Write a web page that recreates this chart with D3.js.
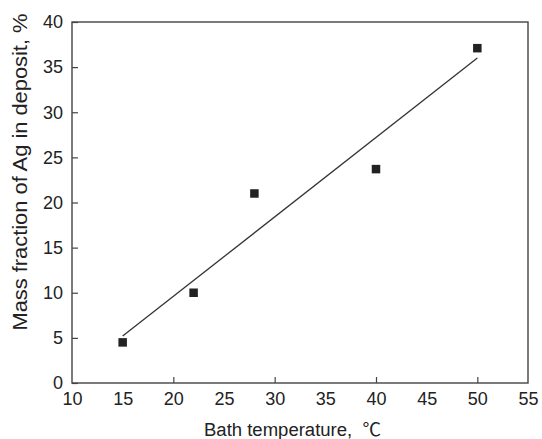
<!DOCTYPE html>
<html>
<head>
<meta charset="utf-8">
<script src="https://cdn.jsdelivr.net/npm/d3@7"></script>
<style>
  body { margin: 0; background: #fff; }
  text { font-family: "Liberation Sans", Arial, "Noto Sans CJK SC", sans-serif; fill: #222; }
</style>
</head>
<body>
<div id="chart"></div>
<script>
// measured points
const temperature = [15, 22, 28, 40, 50];
const agFraction = [4.5, 10, 21, 23.7, 37.1];
// fitted line, end points
const fitX = [15, 50];
const fitY = [5.2, 36.0];

const xLabelTicks = [10, 15, 20, 25, 30, 35, 40, 45, 50, 55];
const xMarkTicks = [20, 30, 40, 50];
const yTicks = [0, 5, 10, 15, 20, 25, 30, 35, 40];

const width = 542, height = 439;
const margin = { top: 22, right: 14, bottom: 56, left: 72 };

const svg = d3.select('#chart').append('svg')
  .attr('width', width)
  .attr('height', height);

const x = d3.scaleLinear().domain([10, 55]).range([margin.left, width - margin.right]);
const y = d3.scaleLinear().domain([0, 40]).range([height - margin.bottom, margin.top]);

// frame
svg.append('rect')
  .attr('x', x(10)).attr('y', y(40))
  .attr('width', x(55) - x(10)).attr('height', y(0) - y(40))
  .attr('fill', 'none').attr('stroke', '#444').attr('stroke-width', 1.4);

// x labels (every 5) and ticks (every 10)
const xLab = svg.append('g')
  .attr('transform', `translate(0,${y(0)})`)
  .call(d3.axisBottom(x).tickValues(xLabelTicks).tickSize(0).tickPadding(9));
xLab.select('.domain').remove();
xLab.selectAll('text').attr('font-size', 18).style('font-family', '"Liberation Sans", Arial, sans-serif');

const xMark = svg.append('g')
  .attr('transform', `translate(0,${y(0)})`)
  .call(d3.axisBottom(x).tickValues(xMarkTicks).tickSize(-6).tickFormat(''));
xMark.select('.domain').remove();
xMark.selectAll('line').attr('stroke', '#444').attr('stroke-width', 1.2);

const yAx = svg.append('g')
  .attr('transform', `translate(${x(10)},0)`)
  .call(d3.axisLeft(y).tickValues(yTicks).tickSize(-6).tickPadding(9));
yAx.select('.domain').remove();
yAx.selectAll('line').attr('stroke', '#444').attr('stroke-width', 1.2);
yAx.selectAll('text').attr('font-size', 18).style('font-family', '"Liberation Sans", Arial, sans-serif');

// fitted line
const line = d3.line().x(d => x(d[0])).y(d => y(d[1]));
svg.append('path')
  .datum(d3.zip(fitX, fitY))
  .attr('d', line)
  .attr('fill', 'none')
  .attr('stroke', '#333')
  .attr('stroke-width', 1.3);

// square markers
const s = 8.5;
svg.append('g').selectAll('rect')
  .data(d3.zip(temperature, agFraction))
  .join('rect')
  .attr('x', d => x(d[0]) - s / 2)
  .attr('y', d => y(d[1]) - s / 2)
  .attr('width', s).attr('height', s)
  .attr('fill', '#222');

// axis titles
svg.append('text')
  .attr('x', 204).attr('y', 436)
  .attr('font-size', 18)
  .attr('textLength', 177)
  .attr('lengthAdjust', 'spacingAndGlyphs')
  .style('white-space', 'pre')
  .text('Bath temperature,  \u2103');

svg.append('text')
  .attr('transform', 'translate(27,172) rotate(-90)')
  .attr('text-anchor', 'middle')
  .attr('font-size', 19.5)
  .attr('textLength', 317)
  .attr('lengthAdjust', 'spacingAndGlyphs')
  .text('Mass fraction of Ag in deposit, %');
</script>
</body>
</html>
